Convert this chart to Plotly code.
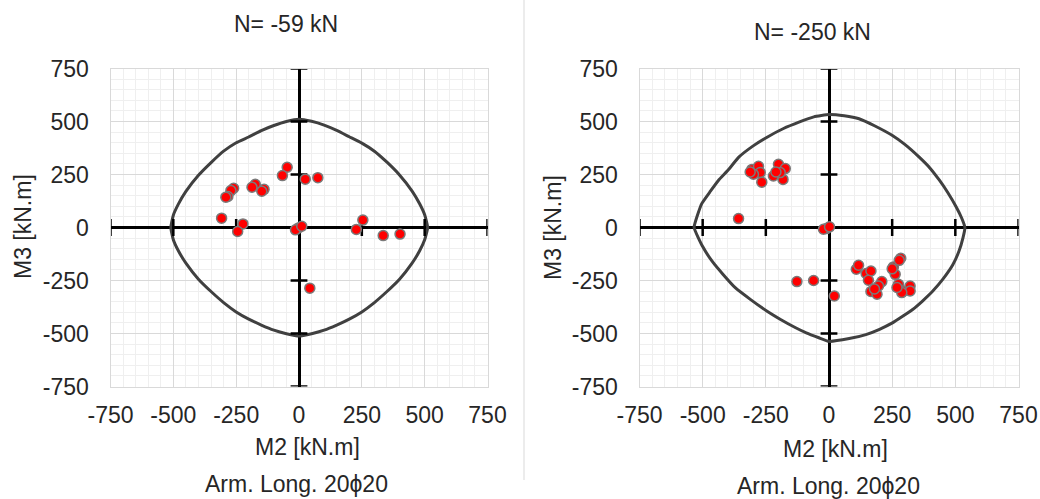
import plotly.graph_objects as go

# ---------------- data ----------------
# Left chart, N = -59 kN : demand points (M2, M3)
m2_left = [-47, -66, 25, 75, -174, -187, -139, -148, -260, -271, -283, -291,
           -308, -223, -244, -2, -14, 11, 228, 254, 335, 402, 43]
m3_left = [284, 245, 228, 235, 204, 190, 180, 171, 185, 174, 146, 143,
           44, 17, -19, -2, -11, 6, -9, 35, -38, -31, -286]

# Left interaction curve
curve_m2_left = [0, 50, 100, 150, 200, 250, 300, 350, 400, 450, 480, 500, 512,
                 500, 480, 450, 400, 350, 300, 250, 200, 150, 100, 50, 0,
                 -50, -100, -150, -200, -250, -300, -350, -400, -450, -480, -500, -510,
                 -500, -480, -450, -400, -350, -300, -250, -200, -150, -100, -50, 0]
curve_m3_left = [511, 501, 483, 458, 428, 398, 360, 308, 248, 172, 112, 60, 0,
                 -58, -110, -168, -244, -302, -354, -398, -432, -460, -484, -501, -512,
                 -501, -484, -460, -432, -398, -354, -302, -244, -168, -110, -58, 0,
                 58, 110, 170, 246, 306, 360, 400, 427, 457, 481, 500, 511]

# Right chart, N = -250 kN : demand points (M2, M3)
m2_right = [-305, -279, -272, -266, -299, -312, -200, -173, -220, -182, -193, -210,
            -358, -10, -22, 2, -127, -61, 21,
            108, 117, 147, 166, 156, 209, 166, 190, 196, 180,
            255, 262, 284, 278, 275, 295, 321, 321, 288, 269, 250]
m3_right = [274, 289, 259, 214, 251, 262, 298, 278, 243, 227, 259, 262,
            42, -5, -8, 3, -255, -250, -323,
            -197, -178, -217, -205, -249, -255, -302, -315, -276, -290,
            -186, -221, -145, -155, -268, -299, -276, -299, -307, -283, -195]

# Right interaction curve
curve_m2_right = [0, 60, 119, 180, 251, 300, 357, 400, 437, 470, 503, 525, 538,
                  530, 515, 490, 450, 410, 370, 331, 290, 251, 200, 146, 80, 0,
                  -40, -90, -132, -190, -245, -310, -370, -420, -462, -500, -534,
                  -520, -503, -470, -437, -400, -357, -300, -245, -180, -119, -60, 0]
curve_m3_right = [533, 527, 513, 480, 434, 392, 332, 280, 223, 165, 98, 45, 0,
                  -50, -110, -176, -245, -301, -347, -387, -420, -450, -480, -505, -524, -537,
                  -520, -497, -473, -435, -395, -340, -285, -220, -160, -90, 0,
                  60, 114, 170, 223, 270, 332, 385, 426, 467, 497, 522, 533]

axis_ticks = [-750, -500, -250, 250, 500, 750]
tick_labels = ["-750", "-500", "-250", "0", "250", "500", "750"]
tick_vals = [-750, -500, -250, 0, 250, 500, 750]

titles = ["N= -59 kN", "N= -250 kN"]
x_title = "M2 [kN.m]"
y_title = "M3 [kN.m]"
footer = "Arm. Long. 20\u03d520"

# ---------------- figure ----------------
FONT = "Liberation Sans, Arial, sans-serif"
TXT = "#262626"
FS = 23
fig = go.Figure()

def add_panel(xa, ya, cm2, cm3, pm2, pm3):
    # interaction curve
    fig.add_trace(go.Scatter(x=cm2, y=cm3, mode="lines",
                             line=dict(color="#404040", width=3, shape="spline", smoothing=0.4),
                             xaxis=xa, yaxis=ya, hoverinfo="skip", showlegend=False))
    # axis cross tick marks
    fig.add_trace(go.Scatter(x=axis_ticks, y=[0] * len(axis_ticks), mode="markers",
                             marker=dict(symbol="line-ns", size=12,
                                         line=dict(color="black", width=2.5)),
                             xaxis=xa, yaxis=ya, hoverinfo="skip", showlegend=False))
    fig.add_trace(go.Scatter(x=[0] * len(axis_ticks), y=axis_ticks, mode="markers",
                             marker=dict(symbol="line-ew", size=12,
                                         line=dict(color="black", width=2.5)),
                             xaxis=xa, yaxis=ya, hoverinfo="skip", showlegend=False))
    # demand points
    fig.add_trace(go.Scatter(x=pm2, y=pm3, mode="markers",
                             marker=dict(color="#ff0000", size=10,
                                         line=dict(color="#7a7a7a", width=1.5)),
                             xaxis=xa, yaxis=ya, showlegend=False))

add_panel("x", "y", curve_m2_left, curve_m3_left, m2_left, m3_left)
add_panel("x2", "y2", curve_m2_right, curve_m3_right, m2_right, m3_right)

W, H = 1040, 499

def fx(px):
    return px / W

def fy(py):
    return 1 - py / H

def ax(domain, anchor, standoff):
    return dict(domain=domain, anchor=anchor, range=[-750, 750], automargin=False,
                tickmode="array", tickvals=tick_vals, ticktext=tick_labels,
                showgrid=True, gridcolor="#d9d9d9", gridwidth=1,
                minor=dict(tickmode="linear", tick0=0, dtick=50, showgrid=True,
                           gridcolor="#efefef", gridwidth=1),
                zeroline=True, zerolinecolor="black", zerolinewidth=2.5,
                showline=True, linecolor="#d9d9d9", linewidth=1, mirror=True,
                ticks="", ticklabelstandoff=standoff,
                tickfont=dict(family=FONT, size=FS, color=TXT), fixedrange=True)

ydom = [fy(386.5), fy(68.5)]
fig.update_layout(
    width=W, height=H, margin=dict(l=0, r=0, t=0, b=0, autoexpand=False),
    paper_bgcolor="white", plot_bgcolor="white",
    xaxis=ax([fx(110.5), fx(487.5)], "y", 8),
    yaxis=ax(ydom, "x", 16),
    xaxis2=ax([fx(639.5), fx(1018.5)], "y2", 8),
    yaxis2=ax(ydom, "x2", 16),
)

def note(text, x, y, angle=0, size=FS):
    fig.add_annotation(text=text, x=fx(x), y=fy(y), xref="paper", yref="paper",
                       showarrow=False, textangle=angle, xanchor="center", yanchor="middle",
                       font=dict(family=FONT, size=size, color=TXT))

note(titles[0], 286, 24)
note(titles[1], 812, 32)
note(x_title, 307, 447)
note(x_title, 835, 449)
note(y_title, 23, 227, angle=-90)
note(y_title, 553, 228, angle=-90)
note(footer, 296, 484)
note(footer, 828, 486)

fig.add_shape(type="line", xref="paper", yref="paper",
              x0=fx(524), x1=fx(524), y0=fy(480), y1=1,
              line=dict(color="#d9d9d9", width=1))

# remove the default page margin so the 1040x499 figure fills the window exactly
fig.write_html("out.html",
               config={"displayModeBar": False},
               post_script="document.body.style.margin='0';"
                           "document.body.style.overflow='hidden';"
                           "document.documentElement.style.overflow='hidden';")
